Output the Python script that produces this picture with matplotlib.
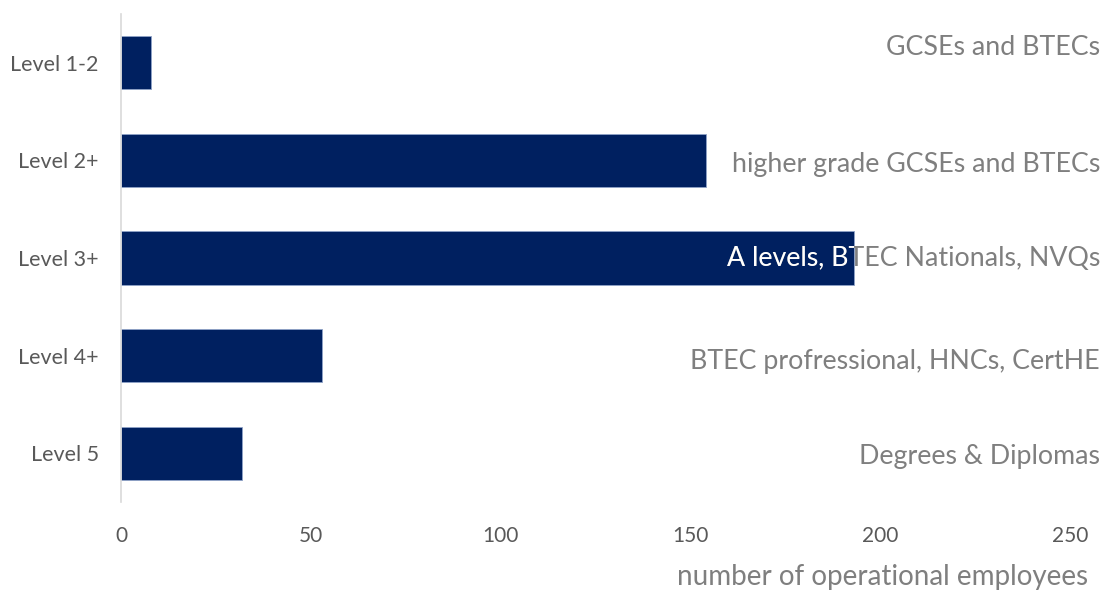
import matplotlib.pyplot as plt
from matplotlib.transforms import Bbox, TransformedBbox, blended_transform_factory

# ==== data ====
levels = ["Level 1-2", "Level 2+", "Level 3+", "Level 4+", "Level 5"]
employees = [8, 154, 193, 53, 32]
descriptions = ["GCSEs and BTECs", "higher grade GCSEs and BTECs",
                "A levels, BTEC Nationals, NVQs", "BTEC profressional, HNCs, CertHE",
                "Degrees & Diplomas"]
xticks = [0, 50, 100, 150, 200, 250]

plt.rcParams["font.family"] = ["Lato", "DejaVu Sans"]
bar_color = "#002060"
grey = "#7f7f7f"

fig = plt.figure(figsize=(11.1, 5.9), dpi=100)
ax = fig.add_axes([121 / 1110, 1 - 502 / 590, 949 / 1110, 488 / 590])

ypos = list(range(len(levels)))
bar_h = 0.545
ax.barh(ypos, employees, height=bar_h, color=bar_color, edgecolor="#8fa3c8", linewidth=0.6)

ax.set_xlim(0, 250)
ax.set_ylim(len(levels) - 0.5, -0.5)
ax.set_xticks(xticks)
ax.set_yticks(ypos)
ax.set_yticklabels(levels)
ax.tick_params(axis="y", length=0, pad=16, labelsize=15.5, labelcolor="#595959")
ax.tick_params(axis="x", length=0, pad=17, labelsize=15, labelcolor="#595959")

for s in ["top", "right", "bottom"]:
    ax.spines[s].set_visible(False)
ax.spines["left"].set_color("#d9d9d9")
ax.spines["left"].set_linewidth(1.2)

# descriptions on the right, white where they sit on top of a bar
text_shift = [-0.16, 0.04, 0.01, 0.06, 0.03]
tr = blended_transform_factory(fig.transFigure, ax.transData)
for i, (txt, val) in enumerate(zip(descriptions, employees)):
    y = i + text_shift[i]
    ax.text(1100 / 1110, y, txt, transform=tr, ha="right", va="center",
            fontsize=19.3, color=grey, clip_on=False)
    t = ax.text(1100 / 1110, y, txt, transform=tr, ha="right", va="center",
                fontsize=19.3, color="white")
    t.set_clip_box(TransformedBbox(Bbox([[0, i - bar_h / 2], [val, i + bar_h / 2]]), ax.transData))
    t.set_clip_on(True)

fig.text(1088 / 1110, 1 - 577 / 590, "number of operational employees", ha="right",
         va="center", fontsize=20, color=grey)

plt.savefig("out.png", dpi=100)
